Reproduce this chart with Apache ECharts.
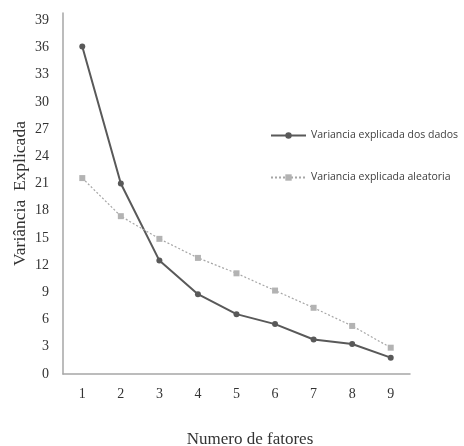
<!DOCTYPE html>
<html><head><meta charset="utf-8">
<script src="https://cdn.jsdelivr.net/npm/echarts@6/dist/echarts.min.js"></script>
<style>html,body{margin:0;padding:0;background:#fff}#c{width:464px;height:446px}</style>
</head><body><div id="c"></div>
<script>
const categories = ['1','2','3','4','5','6','7','8','9'];
const dadosValues = [36.1, 21.0, 12.5, 8.8, 6.6, 5.5, 3.8, 3.3, 1.8];
const aleatoriaValues = [21.6, 17.4, 14.9, 12.8, 11.1, 9.2, 7.3, 5.3, 2.9];
const seriesNames = ['Variancia explicada dos dados', 'Variancia explicada aleatoria'];

const chart = echarts.init(document.getElementById('c'));
chart.setOption({
  animation: false,
  backgroundColor: '#fff',
  grid: {left: 63, right: 54, top: 13, bottom: 72, outerBoundsMode: 'none', containLabel: false},
  legend: {
    orient: 'vertical', left: 265, top: 125, itemGap: 31, itemWidth: 35, itemHeight: 8,
    textStyle: {fontFamily: 'Open Sans', fontSize: 10.5, color: '#404040'},
    data: seriesNames
  },
  xAxis: {
    type: 'category', data: categories, boundaryGap: true,
    name: 'Numero de fatores', nameLocation: 'middle', nameGap: 57,
    nameTextStyle: {fontFamily: 'Liberation Serif', fontSize: 17, color: '#333', padding: [0, 0, 0, 27]},
    axisLine: {lineStyle: {color: '#a6a6a6', width: 1.5}},
    axisTick: {show: false},
    axisLabel: {fontFamily: 'Liberation Serif', fontSize: 14, color: '#333', margin: 13}
  },
  yAxis: {
    type: 'value', min: 0, max: 39.8, interval: 3,
    name: 'Variância  Explicada', nameLocation: 'middle', nameGap: 34, nameMoveOverlap: false,
    nameTextStyle: {fontFamily: 'Liberation Serif', fontSize: 17.5, color: '#333'},
    axisLine: {show: true, lineStyle: {color: '#a6a6a6', width: 1.5}},
    axisTick: {show: false},
    splitLine: {show: false},
    axisLabel: {fontFamily: 'Liberation Serif', fontSize: 14, color: '#333', margin: 14, showMaxLabel: false}
  },
  series: [
    {
      name: seriesNames[0], type: 'line', data: dadosValues,
      symbol: 'circle', symbolSize: 6,
      lineStyle: {color: '#595959', width: 2},
      itemStyle: {color: '#595959'}
    },
    {
      name: seriesNames[1], type: 'line', data: aleatoriaValues,
      symbol: 'rect', symbolSize: 6,
      lineStyle: {color: '#a6a6a6', width: 1.2, type: [2, 2]},
      itemStyle: {color: '#b3b3b3'}
    }
  ]
});
</script></body></html>
